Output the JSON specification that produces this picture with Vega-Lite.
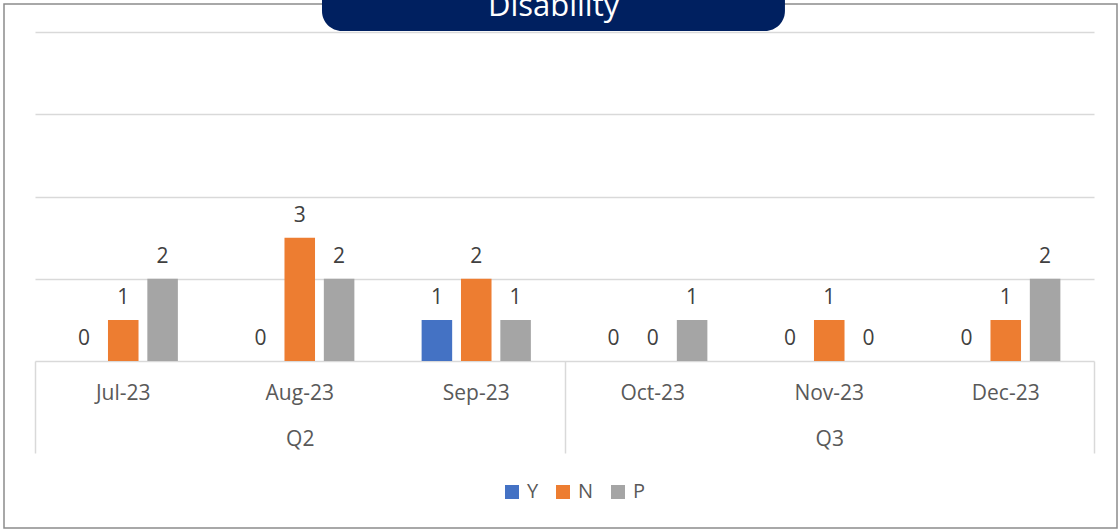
{
  "$schema": "https://vega.github.io/schema/vega-lite/v6.json",
  "width": 1113,
  "height": 524,
  "autosize": {"type": "none"},
  "padding": {"left": 4, "top": 4, "right": 3, "bottom": 2},
  "background": "white",
  "config": {
    "view": {"stroke": "#8c8c8c", "strokeWidth": 1.5},
    "font": "Open Sans",
    "axis": {"labelFont": "Open Sans"},
    "legend": {"labelFont": "Open Sans"}
  },
  "datasets": {
    "main": [
      {"month": "Jul-23", "quarter": "Q2", "series": "Y", "value": 0},
      {"month": "Jul-23", "quarter": "Q2", "series": "N", "value": 1},
      {"month": "Jul-23", "quarter": "Q2", "series": "P", "value": 2},
      {"month": "Aug-23", "quarter": "Q2", "series": "Y", "value": 0},
      {"month": "Aug-23", "quarter": "Q2", "series": "N", "value": 3},
      {"month": "Aug-23", "quarter": "Q2", "series": "P", "value": 2},
      {"month": "Sep-23", "quarter": "Q2", "series": "Y", "value": 1},
      {"month": "Sep-23", "quarter": "Q2", "series": "N", "value": 2},
      {"month": "Sep-23", "quarter": "Q2", "series": "P", "value": 1},
      {"month": "Oct-23", "quarter": "Q3", "series": "Y", "value": 0},
      {"month": "Oct-23", "quarter": "Q3", "series": "N", "value": 0},
      {"month": "Oct-23", "quarter": "Q3", "series": "P", "value": 1},
      {"month": "Nov-23", "quarter": "Q3", "series": "Y", "value": 0},
      {"month": "Nov-23", "quarter": "Q3", "series": "N", "value": 1},
      {"month": "Nov-23", "quarter": "Q3", "series": "P", "value": 0},
      {"month": "Dec-23", "quarter": "Q3", "series": "Y", "value": 0},
      {"month": "Dec-23", "quarter": "Q3", "series": "N", "value": 1},
      {"month": "Dec-23", "quarter": "Q3", "series": "P", "value": 2}
    ],
    "titlebox": [{"label": "Disability"}]
  },
  "resolve": {"scale": {"x": "independent"}, "axis": {"x": "independent", "y": "independent"}},
  "layer": [
    {
      "data": {"name": "main"},
      "encoding": {
        "x": {
          "field": "month", "type": "nominal",
          "sort": ["Jul-23", "Aug-23", "Sep-23", "Oct-23", "Nov-23", "Dec-23"],
          "scale": {"range": [31, 1090], "paddingInner": 0.331, "paddingOuter": 0.1655},
          "axis": {
            "orient": "bottom", "offset": -167, "title": null, "labelAngle": 0,
            "domainColor": "#d9d9d9", "domainWidth": 1.5, "ticks": false, "tickSize": 0,
            "labelPadding": 21, "labelFontSize": 21, "labelColor": "#595959", "grid": false
          }
        },
        "xOffset": {
          "field": "series", "type": "nominal", "sort": ["Y", "N", "P"],
          "scale": {"paddingInner": 0.224, "paddingOuter": 0.112}
        },
        "y": {
          "field": "value", "type": "quantitative",
          "scale": {"domain": [0, 8], "range": [357, 28], "nice": false},
          "axis": {
            "title": null, "values": [2, 4, 6, 8], "grid": true, "gridColor": "#d9d9d9", "gridWidth": 1.5,
            "domain": false, "ticks": false, "labels": false
          }
        }
      },
      "layer": [
        {
          "mark": {"type": "bar"},
          "encoding": {
            "color": {
              "field": "series", "type": "nominal",
              "scale": {"domain": ["Y", "N", "P"], "range": ["#4472C4", "#ED7D31", "#A5A5A5"]},
              "legend": {
                "title": null, "orient": "none", "direction": "horizontal",
                "legendX": 498, "legendY": 478,
                "symbolType": "square", "symbolSize": 196, "symbolStrokeWidth": 0,
                "labelFontSize": 20, "labelColor": "#595959", "labelOffset": 5, "columnPadding": 14
              }
            }
          }
        },
        {
          "mark": {"type": "text", "fontSize": 21, "color": "#404040", "baseline": "alphabetic", "dy": -16},
          "encoding": {"text": {"field": "value", "type": "quantitative"}}
        }
      ]
    },
    {
      "data": {"name": "main"},
      "mark": {"type": "point", "opacity": 0},
      "encoding": {
        "x": {
          "field": "quarter", "type": "nominal",
          "scale": {"range": [31, 1090], "paddingInner": 0, "paddingOuter": 0},
          "axis": {
            "orient": "bottom", "offset": -167, "title": null, "labelAngle": 0, "domain": false,
            "tickBand": "extent", "ticks": true, "tickSize": 92, "tickColor": "#d9d9d9", "tickWidth": 1.5,
            "labelPadding": -25, "labelFontSize": 21, "labelColor": "#595959", "grid": false
          }
        }
      }
    },
    {
      "data": {"name": "titlebox"},
      "layer": [
        {
          "mark": {"type": "rect", "color": "#002060", "cornerRadius": 20},
          "encoding": {
            "x": {"datum": 1.626, "type": "quantitative", "scale": {"domain": [0, 6], "range": [31, 1090], "nice": false, "zero": false}, "axis": null},
            "x2": {"datum": 4.249},
            "y": {"datum": 8.025, "type": "quantitative", "axis": null},
            "y2": {"datum": 10}
          }
        },
        {
          "mark": {"type": "text", "color": "white", "fontSize": 31, "baseline": "alphabetic", "align": "center"},
          "encoding": {
            "x": {"datum": 2.938, "type": "quantitative", "axis": null},
            "y": {"datum": 8.389, "type": "quantitative", "axis": null},
            "text": {"field": "label"}
          }
        }
      ]
    }
  ]
}
